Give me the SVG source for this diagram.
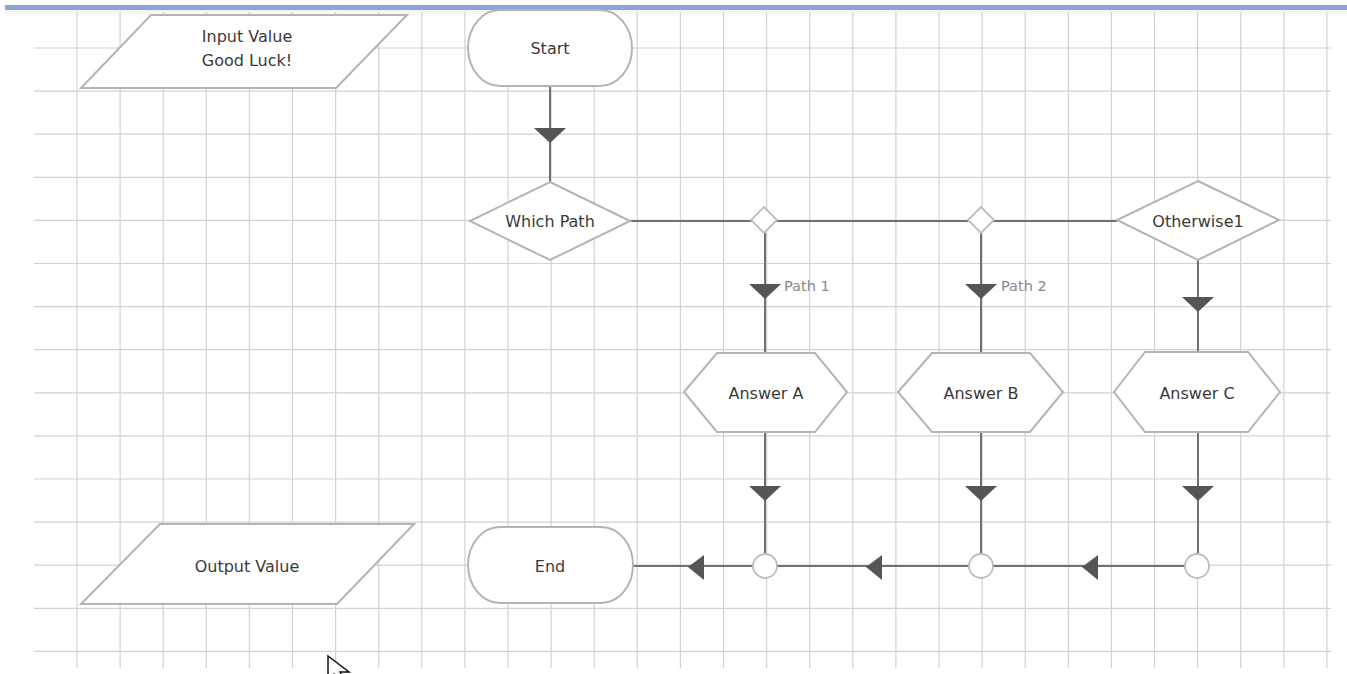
<svg xmlns="http://www.w3.org/2000/svg" width="1347" height="674" viewBox="0 0 1347 674">
  <style>
    .grid line { stroke: #d2d2d2; stroke-width: 1.2; }
    .shape { fill: #ffffff; stroke: #b4b4b4; stroke-width: 2; }
    .lbl { font-family: "DejaVu Sans", "Liberation Sans", sans-serif; font-size: 16px; fill: #3a3a3a; text-anchor: middle; dominant-baseline: central; }
    .plbl { font-family: "DejaVu Sans", "Liberation Sans", sans-serif; font-size: 14.5px; fill: #8a8a8a; dominant-baseline: central; }
    .conn line { stroke: #707070; stroke-width: 2; }
    .arr { fill: #555555; stroke: none; }
    .junc { fill: #ffffff; stroke: #bdbdbd; stroke-width: 1.8; }
  </style>
  <defs>
    <linearGradient id="topfade" x1="0" y1="0" x2="0" y2="1">
      <stop offset="0" stop-color="#eef6ee"/>
      <stop offset="1" stop-color="#ffffff"/>
    </linearGradient>
  </defs>
  <rect x="0" y="0" width="1347" height="674" fill="#ffffff"/>
  <rect x="5" y="10" width="1342" height="7" fill="url(#topfade)"/>
  <rect x="5" y="5" width="1342" height="5" fill="#8ea3d6"/>

  <g id="grid" class="grid">
    <line x1="77" y1="12" x2="77" y2="668"/>
    <line x1="120.1" y1="12" x2="120.1" y2="668"/>
    <line x1="163.2" y1="12" x2="163.2" y2="668"/>
    <line x1="206.3" y1="12" x2="206.3" y2="668"/>
    <line x1="249.4" y1="12" x2="249.4" y2="668"/>
    <line x1="292.5" y1="12" x2="292.5" y2="668"/>
    <line x1="335.6" y1="12" x2="335.6" y2="668"/>
    <line x1="378.7" y1="12" x2="378.7" y2="668"/>
    <line x1="421.8" y1="12" x2="421.8" y2="668"/>
    <line x1="464.9" y1="12" x2="464.9" y2="668"/>
    <line x1="508" y1="12" x2="508" y2="668"/>
    <line x1="551.1" y1="12" x2="551.1" y2="668"/>
    <line x1="594.2" y1="12" x2="594.2" y2="668"/>
    <line x1="637.3" y1="12" x2="637.3" y2="668"/>
    <line x1="680.4" y1="12" x2="680.4" y2="668"/>
    <line x1="723.5" y1="12" x2="723.5" y2="668"/>
    <line x1="766.6" y1="12" x2="766.6" y2="668"/>
    <line x1="809.7" y1="12" x2="809.7" y2="668"/>
    <line x1="852.8" y1="12" x2="852.8" y2="668"/>
    <line x1="895.9" y1="12" x2="895.9" y2="668"/>
    <line x1="939" y1="12" x2="939" y2="668"/>
    <line x1="982.1" y1="12" x2="982.1" y2="668"/>
    <line x1="1025.2" y1="12" x2="1025.2" y2="668"/>
    <line x1="1068.3" y1="12" x2="1068.3" y2="668"/>
    <line x1="1111.4" y1="12" x2="1111.4" y2="668"/>
    <line x1="1154.5" y1="12" x2="1154.5" y2="668"/>
    <line x1="1197.6" y1="12" x2="1197.6" y2="668"/>
    <line x1="1240.7" y1="12" x2="1240.7" y2="668"/>
    <line x1="1283.8" y1="12" x2="1283.8" y2="668"/>
    <line x1="1326.9" y1="12" x2="1326.9" y2="668"/>
    <line x1="34" y1="48" x2="1331" y2="48"/>
    <line x1="34" y1="91.1" x2="1331" y2="91.1"/>
    <line x1="34" y1="134.2" x2="1331" y2="134.2"/>
    <line x1="34" y1="177.3" x2="1331" y2="177.3"/>
    <line x1="34" y1="220.4" x2="1331" y2="220.4"/>
    <line x1="34" y1="263.5" x2="1331" y2="263.5"/>
    <line x1="34" y1="306.6" x2="1331" y2="306.6"/>
    <line x1="34" y1="349.7" x2="1331" y2="349.7"/>
    <line x1="34" y1="392.8" x2="1331" y2="392.8"/>
    <line x1="34" y1="435.9" x2="1331" y2="435.9"/>
    <line x1="34" y1="479" x2="1331" y2="479"/>
    <line x1="34" y1="522.1" x2="1331" y2="522.1"/>
    <line x1="34" y1="565.2" x2="1331" y2="565.2"/>
    <line x1="34" y1="608.3" x2="1331" y2="608.3"/>
    <line x1="34" y1="651.4" x2="1331" y2="651.4"/>
  </g>

  <g id="connectors" class="conn">
    <line x1="550" y1="86" x2="550" y2="182"/>
    <polygon class="arr" points="534,128 566,128 550,143"/>
    <line x1="630" y1="221" x2="1117" y2="221"/>
    <line x1="765" y1="233" x2="765" y2="353"/>
    <polygon class="arr" points="749,284 781,284 765,299"/>
    <line x1="981" y1="233" x2="981" y2="353"/>
    <polygon class="arr" points="965,284 997,284 981,299"/>
    <line x1="1198" y1="260" x2="1198" y2="352"/>
    <polygon class="arr" points="1182,297 1214,297 1198,312"/>
    <line x1="765" y1="432" x2="765" y2="553"/>
    <polygon class="arr" points="749,486 781,486 765,501"/>
    <line x1="981" y1="432" x2="981" y2="553"/>
    <polygon class="arr" points="965,486 997,486 981,501"/>
    <line x1="1198" y1="432" x2="1198" y2="553"/>
    <polygon class="arr" points="1182,486 1214,486 1198,501"/>
    <line x1="1186" y1="566" x2="633" y2="566"/>
    <polygon class="arr" points="1082,567 1098,555 1098,580"/>
    <polygon class="arr" points="866,567 882,555 882,580"/>
    <polygon class="arr" points="688,567 704,555 704,580"/>
    <text class="plbl" x="784" y="286">Path 1</text>
    <text class="plbl" x="1001" y="286">Path 2</text>
  </g>

  <g id="junction-a">
    <polygon class="junc" points="764,207 777,220 764,233 751,220"/>
  </g>
  <g id="junction-b">
    <polygon class="junc" points="981,207 994,220 981,233 968,220"/>
  </g>
  <g id="merge-a">
    <circle class="junc" cx="765" cy="566" r="12"/>
  </g>
  <g id="merge-b">
    <circle class="junc" cx="981" cy="566" r="12"/>
  </g>
  <g id="merge-c">
    <circle class="junc" cx="1197" cy="566" r="12"/>
  </g>

  <g id="input-value">
    <polygon class="shape" points="151,15 407,15 336,88 81,88"/>
    <text class="lbl" x="247" y="36">Input Value</text>
    <text class="lbl" x="247" y="60">Good Luck!</text>
  </g>
  <g id="output-value">
    <polygon class="shape" points="160,524 414,524 337,604 81,604"/>
    <text class="lbl" x="247" y="566">Output Value</text>
  </g>
  <g id="start">
    <rect class="shape" x="468" y="10" width="164" height="76" rx="32" ry="38"/>
    <text class="lbl" x="550" y="48">Start</text>
  </g>
  <g id="which-path">
    <polygon class="shape" points="550,182 630,221 550,260 470,221"/>
    <text class="lbl" x="550" y="221">Which Path</text>
  </g>
  <g id="otherwise1">
    <polygon class="shape" points="1198,181 1279,220 1198,260 1117,220"/>
    <text class="lbl" x="1198" y="221">Otherwise1</text>
  </g>
  <g id="answer-a">
    <polygon class="shape" points="684,392 717,353 815,353 847,392 815,432 717,432"/>
    <text class="lbl" x="766" y="393">Answer A</text>
  </g>
  <g id="answer-b">
    <polygon class="shape" points="898,392 932,353 1030,353 1063,392 1030,432 932,432"/>
    <text class="lbl" x="981" y="393">Answer B</text>
  </g>
  <g id="answer-c">
    <polygon class="shape" points="1114,392 1145,352 1248,352 1280,392 1248,432 1145,432"/>
    <text class="lbl" x="1197" y="393">Answer C</text>
  </g>
  <g id="end">
    <rect class="shape" x="468" y="527" width="165" height="76" rx="32" ry="38"/>
    <text class="lbl" x="550" y="566">End</text>
  </g>

  <g id="cursor">
    <path d="M328,656 L328,680 L334,674 L340,686 L346,684 L340,672 L349,672 Z" fill="#ffffff" stroke="#111111" stroke-width="1.5"/>
  </g>
</svg>
